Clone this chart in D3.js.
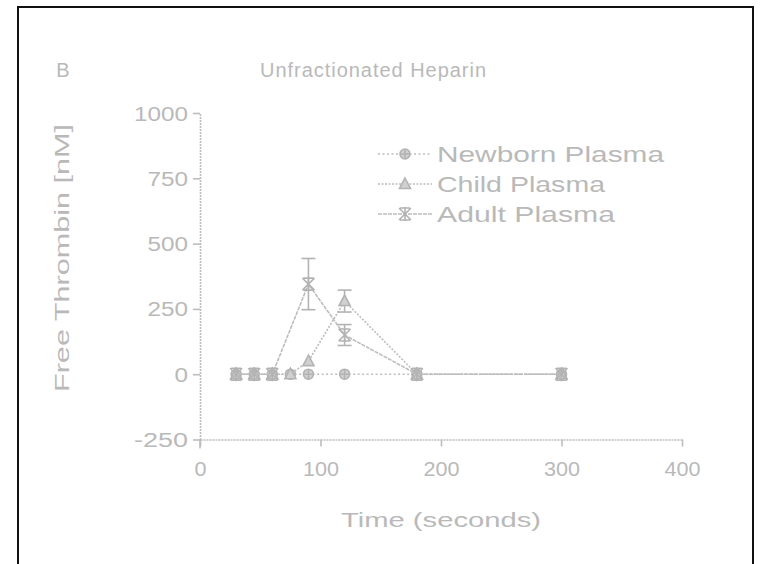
<!DOCTYPE html>
<html>
<head>
<meta charset="utf-8">
<script src="https://cdn.jsdelivr.net/npm/d3@7"></script>
<style>
  html, body { margin: 0; padding: 0; background: #fff; }
  svg { display: block; }
  text { font-family: "Liberation Sans", Arial, sans-serif; fill: #b9b9b9; }
</style>
</head>
<body>
<svg id="chart" width="765" height="564"></svg>
<script>
// Free thrombin over time after unfractionated heparin, by plasma source
const panelLabel = "B";
const chartTitle = "Unfractionated Heparin";
const xTitle = "Time (seconds)";
const yTitle = "Free Thrombin [nM]";

const xTicks = [0, 100, 200, 300, 400];
const yTicks = [-250, 0, 250, 500, 750, 1000];

const seriesNames = ["Newborn Plasma", "Child Plasma", "Adult Plasma"];

const newbornTimes = [30, 45, 60, 75, 90, 120, 180, 300];
const newbornValues = [0, 0, 0, 0, 0, 0, 0, 0];
const newbornErrors = [0, 0, 0, 0, 0, 0, 0, 0];

const childTimes = [30, 45, 60, 75, 90, 120, 180, 300];
const childValues = [0, 0, 0, 0, 50, 280, 0, 0];
const childErrors = [0, 0, 0, 0, 0, 42, 0, 0];

const adultTimes = [30, 45, 60, 90, 120, 180, 300];
const adultValues = [0, 0, 0, 345, 150, 0, 0];
const adultErrors = [0, 0, 0, 98, 40, 0, 0];

const ink = "#bdbdbd";
const plain = d => String(d).replace("\u2212", "-");

const svg = d3.select("#chart");

// outer frame
svg.append("rect")
  .attr("x", 18).attr("y", 7).attr("width", 735).attr("height", 620)
  .attr("fill", "none").attr("stroke", "#111").attr("stroke-width", 2);

const x = d3.scaleLinear().domain([0, 400]).range([200, 682]);
const y = d3.scaleLinear().domain([-250, 1000]).range([439.5, 113]);

// axes
const xAxis = svg.append("g")
  .attr("transform", `translate(0,${y(-250)})`)
  .call(d3.axisBottom(x).tickValues(xTicks).tickFormat(plain)
    .tickSize(7).tickSizeOuter(0).tickPadding(15));
const yAxis = svg.append("g")
  .attr("transform", `translate(${x(0)},0)`)
  .call(d3.axisLeft(y).tickValues(yTicks).tickFormat(plain)
    .tickSize(7).tickSizeOuter(0).tickPadding(5));

[xAxis, yAxis].forEach(g => {
  g.select(".domain").attr("stroke", ink).attr("stroke-width", 1.6).attr("stroke-dasharray", "2,1");
  g.selectAll(".tick line").attr("stroke", ink).attr("stroke-width", 1.6);
  g.selectAll(".tick text")
    .attr("fill", "#b9b9b9")
    .style("font-family", '"Liberation Sans", Arial, sans-serif')
    .style("font-size", "20px");
});
xAxis.selectAll(".tick text").attr("dy", "0.71em")
  .attr("textLength", d => plain(d).length * 12)
  .attr("lengthAdjust", "spacingAndGlyphs");
yAxis.selectAll(".tick text").attr("dy", "0.35em")
  .attr("textLength", d => plain(d).length * 13.5)
  .attr("lengthAdjust", "spacingAndGlyphs");
// y axis runs a little below the x axis
yAxis.append("line")
  .attr("x1", 0).attr("x2", 0).attr("y1", y(-250)).attr("y2", y(-250) + 9)
  .attr("stroke", ink).attr("stroke-width", 1.6);

// titles
svg.append("text").attr("x", 63).attr("y", 77).attr("text-anchor", "middle")
  .style("font-size", "20px").text(panelLabel);
svg.append("text").attr("x", 373).attr("y", 77).attr("text-anchor", "middle")
  .style("font-size", "20px").attr("textLength", 226).attr("lengthAdjust", "spacing")
  .text(chartTitle);
svg.append("text").attr("x", 441).attr("y", 527).attr("text-anchor", "middle")
  .style("font-size", "21px").attr("textLength", 200).attr("lengthAdjust", "spacingAndGlyphs")
  .text(xTitle);
svg.append("text")
  .attr("transform", "translate(69,258) rotate(-90)")
  .attr("text-anchor", "middle")
  .style("font-size", "21px").attr("textLength", 268).attr("lengthAdjust", "spacingAndGlyphs")
  .text(yTitle);

// marker shapes
function drawMarker(g, kind, cx, cy) {
  const m = g.append("g").attr("transform", `translate(${cx},${cy})`)
    .attr("fill", "none").attr("stroke", "#b3b3b3").attr("stroke-width", 1.6);
  if (kind === "circle") {
    m.append("circle").attr("r", 5).attr("fill", "#d0d0d0");
    m.append("path").attr("d", "M-5,0H5M0,-5V5");
  } else if (kind === "triangle") {
    m.append("path").attr("d", "M0,-6L5.5,4.5L-5.5,4.5Z").attr("fill", "#d0d0d0");
  } else {
    m.append("path").attr("d", "M-6,-6L6,6M6,-6L-6,6M0,-7V7M-5,-6H5M-5,6H5");
  }
  return m;
}

const series = [
  { name: seriesNames[0], t: newbornTimes, v: newbornValues, e: newbornErrors, kind: "circle", dash: "2,2.5" },
  { name: seriesNames[1], t: childTimes, v: childValues, e: childErrors, kind: "triangle", dash: "2,1.5" },
  { name: seriesNames[2], t: adultTimes, v: adultValues, e: adultErrors, kind: "asterisk", dash: "4,1" }
];

const line = d3.line().x(d => x(d.t)).y(d => y(d.v));
const plot = svg.append("g");

series.forEach(s => {
  const pts = s.t.map((t, i) => ({ t, v: s.v[i], e: s.e[i] }));
  plot.append("path").datum(pts)
    .attr("d", line).attr("fill", "none")
    .attr("stroke", ink).attr("stroke-width", 1.6).attr("stroke-dasharray", s.dash);
  pts.filter(d => d.e > 0).forEach(d => {
    const eg = plot.append("g").attr("stroke", "#b3b3b3").attr("stroke-width", 1.6);
    eg.append("line").attr("x1", x(d.t)).attr("x2", x(d.t)).attr("y1", y(d.v - d.e)).attr("y2", y(d.v + d.e));
    [d.v - d.e, d.v + d.e].forEach(val =>
      eg.append("line").attr("x1", x(d.t) - 7).attr("x2", x(d.t) + 7).attr("y1", y(val)).attr("y2", y(val)));
  });
  pts.forEach(d => drawMarker(plot, s.kind, x(d.t), y(d.v)));
});

// legend
const legendWidths = [227, 168, 178];
series.forEach((s, i) => {
  const ly = 154 + i * 30;
  const lg = svg.append("g");
  lg.append("line").attr("x1", 378).attr("x2", 432).attr("y1", ly).attr("y2", ly)
    .attr("stroke", ink).attr("stroke-width", 1.6).attr("stroke-dasharray", s.dash);
  drawMarker(lg, s.kind, 405, ly);
  lg.append("text").attr("x", 437).attr("y", ly).attr("dy", "0.36em")
    .style("font-size", "22px").attr("textLength", legendWidths[i]).attr("lengthAdjust", "spacingAndGlyphs")
    .text(s.name);
});
</script>
</body>
</html>
